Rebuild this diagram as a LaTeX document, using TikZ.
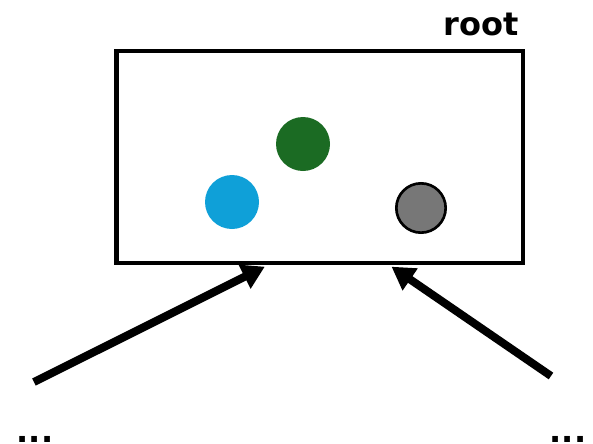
\documentclass[tikz,border=0pt]{standalone}
\usepackage{fontspec}
\setmainfont{DejaVu Sans}
\definecolor{ballblue}{HTML}{0FA0D8}
\definecolor{ballgreen}{HTML}{1B6B23}
\definecolor{ballgray}{HTML}{777777}
\usetikzlibrary{arrows.meta}

\begin{document}
\begin{tikzpicture}[x=0.75pt,y=-0.75pt,
    frame/.style={draw,line width=3.5pt,minimum width=305pt,minimum height=159pt,inner sep=0pt},
    ball/.style={circle,inner sep=0pt,minimum size=40.5pt},
    feed/.style={line width=6pt,-{Triangle[length=17pt,width=19pt]}},
    tag/.style={font=\bfseries\fontsize{24}{28}\selectfont}]
  \useasboundingbox (0,0) rectangle (593,443);
  % the root box and its name
  \node[frame] (root) at (319.5,157) {};
  \node[tag,anchor=base east,inner sep=0pt] (rootname) at (519,35) {root};
  % contents
  \node[ball,fill=ballgreen] (green) at (303,144) {};
  \node[ball,fill=ballblue] (blue) at (232,202) {};
  \node[ball,fill=ballgray,draw=black,line width=2pt,minimum size=37pt] (gray) at (421,208) {};
  % incoming links
  \coordinate (lin) at (34,382);
  \coordinate (rin) at (551,376);
  \draw[feed] (lin) -- ([xshift=-41pt,yshift=-1pt]root.south);
  \draw[feed] (rin) -- ([xshift=54pt,yshift=-1pt]root.south);
  \node[tag,anchor=base,inner sep=0pt] (ldots) at (35,442) {...};
  \node[tag,anchor=base,inner sep=0pt] (rdots) at (568,442) {...};
\end{tikzpicture}
\end{document}
